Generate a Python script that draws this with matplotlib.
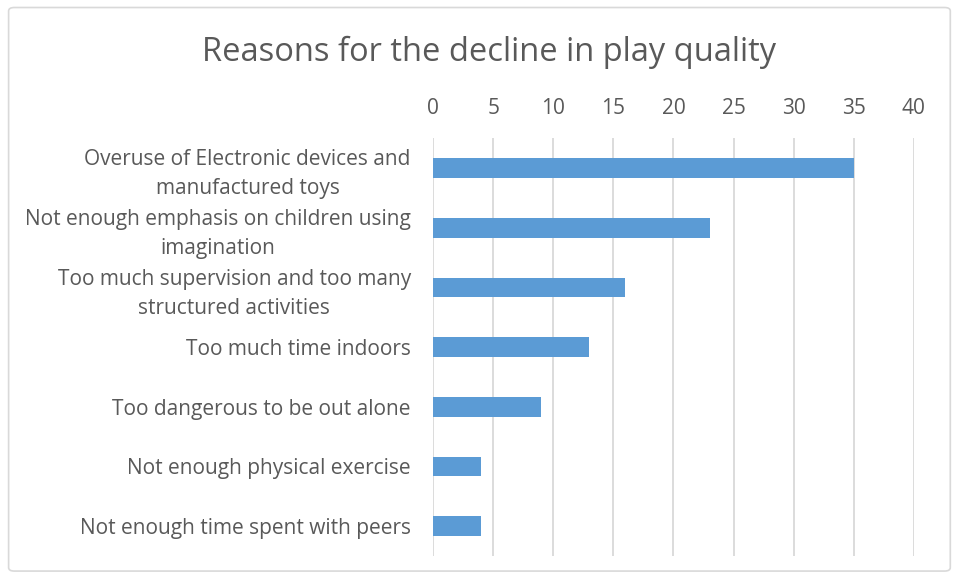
import matplotlib.pyplot as plt
from matplotlib.patches import FancyBboxPatch

plt.rcParams['font.family'] = ['Open Sans', 'DejaVu Sans']

reasons = [
    "Overuse of Electronic devices and\nmanufactured toys",
    "Not enough emphasis on children using\nimagination",
    "Too much supervision and too many\nstructured activities",
    "Too much time indoors",
    "Too dangerous to be out alone",
    "Not enough physical exercise",
    "Not enough time spent with peers",
]
counts = [35, 23, 16, 13, 9, 4, 4]
ticks = [0, 5, 10, 15, 20, 25, 30, 35, 40]

text_color = "#595959"
grid_color = "#D9D9D9"
bar_color = "#5B9BD5"

fig = plt.figure(figsize=(9.57, 5.78), dpi=100)
fig.patch.set_facecolor("white")

# light outer frame round the whole chart
frame = FancyBboxPatch((0.009, 0.012), 0.984, 0.975, boxstyle="round,pad=0,rounding_size=0.006",
                       transform=fig.transFigure, facecolor="none", edgecolor=grid_color, lw=1.2)
fig.patches.append(frame)

ax = fig.add_axes([0.4525, 0.038, 0.5025, 0.723])
ypos = list(range(len(reasons)))
ax.barh(ypos, counts, height=0.33, color=bar_color, zorder=3)
ax.set_ylim(len(reasons) - 0.5, -0.5)
ax.set_xlim(0, 40)

ax.xaxis.tick_top()
ax.set_xticks(ticks)
ax.set_xticklabels([str(t) for t in ticks])
ax.set_yticks(ypos)
ax.set_yticklabels(reasons)
for lab in ax.get_yticklabels():
    lab.set_multialignment("center")
    lab.set_linespacing(1.5)

ax.tick_params(axis="x", length=0, pad=14, labelsize=15, labelcolor=text_color)
ax.tick_params(axis="y", length=0, pad=16, labelsize=15, labelcolor=text_color)

ax.grid(axis="x", color=grid_color, lw=1.3, zorder=0)
for side in ax.spines.values():
    side.set_visible(False)

fig.text(0.511, 0.91, "Reasons for the decline in play quality", ha="center", va="center",
         fontsize=23.5, color=text_color)

fig.savefig("out.png", dpi=100)
